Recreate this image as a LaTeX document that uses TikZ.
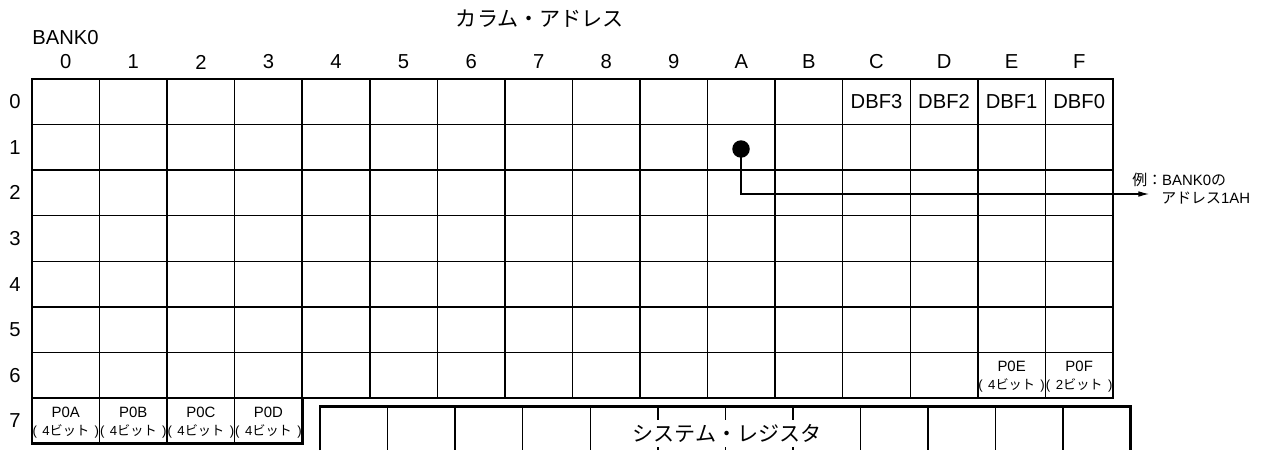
\documentclass[tikz,border=0pt]{standalone}
\usepackage{fontspec}
\setmainfont{Liberation Sans}
\newfontfamily\jpfont{Noto Sans CJK JP}
\usetikzlibrary{arrows.meta}

\tikzset{
    thinline/.style={line width=0.85pt},
    thickline/.style={line width=1.5pt},
    hdr/.style={font=\fontsize{11.5}{13}\selectfont, inner sep=0pt},
    tiny/.style={font=\fontsize{8.5}{10}\selectfont, inner sep=0pt},
    bitsize/.style={font=\fontsize{7.5}{9}\selectfont, inner sep=0pt},
    jptitle/.style={font=\jpfont\fontsize{12}{14}\selectfont, inner sep=0pt},
}

\begin{document}
\begin{tikzpicture}[x=0.02cm, y=-0.02cm, >={Latex[length=6pt,width=3.2pt]}]
    \useasboundingbox (0,0) rectangle (1261,450);
    \def\cw{67.56}
    \def\rh{45.57}

    % Headings
    \node[jptitle] (title) at (540,19) {カラム・アドレス};
    \node[hdr, anchor=west] (bank) at (32,38) {BANK0};

    % Column and row numbers
    \foreach \c [count=\i from 0] in {0,1,2,3,4,5,6,7,8,9,A,B,C,D,E,F}
        \node[hdr] (col\c) at ({32+\cw*(\i+0.5)}, 62) {\c};
    \foreach \r in {0,...,7}
        \node[hdr] (row\r) at (15, {79+\rh*(\r+0.5)}) {\r};

    % Data memory grid
    \foreach \i in {1,...,15}
        \draw[thinline] ({32+\cw*\i},79) -- ({32+\cw*\i},398);
    \foreach \i in {1,2,3}
        \draw[thinline] ({32+\cw*\i},398) -- ({32+\cw*\i},443.6);
    \foreach \j in {1,...,6}
        \draw[thinline] (32,{79+\rh*\j}) -- (1113,{79+\rh*\j});
    \draw[thinline] (32,398) -- (302.2,398);
    \draw[thickline] (32,79) -- (1113,79) -- (1113,398) -- (302.2,398)
        -- (302.2,443.6) -- (32,443.6) -- cycle;

    % DBF and port registers
    \foreach \c/\t in {12/DBF3,13/DBF2,14/DBF1,15/DBF0}
        \node[hdr] (dbf\c) at ({32+\cw*(\c+0.5)}, {79+\rh*0.5}) {\t};
    \foreach \c/\n/\b/\top in {0/A/4/398,1/B/4/398,2/C/4/398,3/D/4/398,14/E/4/352.4,15/F/2/352.4} {
        \node[tiny] (p0\n) at ({32+\cw*(\c+0.5)}, \top+14) {P0\n};
        \node[bitsize] (bits\n) at ({32+\cw*(\c+0.5)}, \top+33)
            {\makebox[1.33cm]{(\hfill\b{\jpfont ビット}\hfill)}};
    }

    % System register
    \foreach \k in {1,...,11}
        \draw[thinline] ({320+\cw*\k},406.5) -- ({320+\cw*\k},450);
    \draw[thickline] (320,450) -- (320,406.5) -- (1130.7,406.5) -- (1130.7,450);
    \node[jptitle, fill=white, inner xsep=2pt, minimum height=0.54cm] (sysreg) at (727,433) {システム・レジスタ};

    % Example: address 1AH
    \node[circle, fill, inner sep=0pt, minimum size=0.35cm] (dot) at (741,149) {};
    \coordinate (tip) at (1149,194);
    \draw[line width=0.6pt, ->] (dot.center) |- (tip);
    \node[tiny, anchor=west] (note1) at (1132,180) {{\jpfont 例：}BANK0{\jpfont の}};
    \node[tiny, anchor=west] (note2) at (1161,198) {{\jpfont アドレス}1AH};
\end{tikzpicture}
\end{document}
